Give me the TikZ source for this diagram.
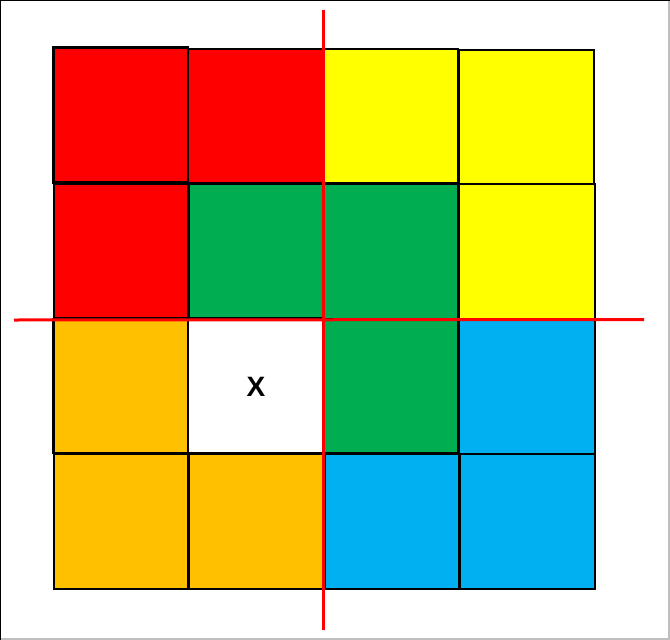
\documentclass[tikz,border=0pt]{standalone}
\usepackage{fontspec}
\setmainfont{Liberation Sans}
\definecolor{cRed}{HTML}{FF0000}
\definecolor{cYel}{HTML}{FFFF00}
\definecolor{cGrn}{HTML}{00AD50}
\definecolor{cOra}{HTML}{FFC000}
\definecolor{cBlu}{HTML}{00B0F0}
\begin{document}
\begin{tikzpicture}[x=1pt,y=-1pt,
  cell/.style={draw=black,line width=2.6pt},
  cut/.style={draw=cRed,line width=3pt}]
\useasboundingbox (0,0) rectangle (670,640);
\fill[white] (0,0) rectangle (670,640);
\draw[gray!50,line width=1.5pt] (669.2,0) -- (669.2,639.2) -- (0,639.2);
\draw[black,line width=1.5pt] (0.7,640) -- (0.7,0.7) -- (670,0.7);
% row 1
\draw[cell,fill=cRed] (53.5,47.5) rectangle (188,182.5);
\draw[cell,fill=cRed] (188,49) rectangle (323,183);
\draw[cell,fill=cYel] (323,49) rectangle (458,183);
\draw[cell,fill=cYel] (459,50) rectangle (594,184);
% row 2
\draw[cell,fill=cRed] (54,184) rectangle (188,318.5);
\draw[cell,fill=cGrn] (189,184) rectangle (323,318.5);
\draw[cell,fill=cGrn] (323,184) rectangle (458,319);
\draw[cell,fill=cYel] (459,184) rectangle (595,319);
% row 3
\draw[cell,fill=cOra] (53.5,319) rectangle (188,453);
\draw[cell,fill=white] (188,319) rectangle (323,453);
\draw[cell,fill=cGrn] (323,319) rectangle (458,453);
\draw[cell,fill=cBlu] (459,319) rectangle (595,454);
% row 4
\draw[cell,fill=cOra] (54,454) rectangle (188,589);
\draw[cell,fill=cOra] (189,454) rectangle (324,589);
\draw[cell,fill=cBlu] (325,454) rectangle (459,589);
\draw[cell,fill=cBlu] (460,454) rectangle (595,589);
\node[font=\fontsize{28}{30}\selectfont\bfseries,inner sep=0pt] (x) at (256,387) {X};
% red cut lines
\coordinate (vt) at (323.8,10);
\coordinate (vb) at (323.8,630);
\coordinate (hl) at (14,320);
\coordinate (hr) at (644,319.5);
\draw[cut] (vt) -- (vb);
\draw[cut] (hl) -- (hr);
\end{tikzpicture}
\end{document}
